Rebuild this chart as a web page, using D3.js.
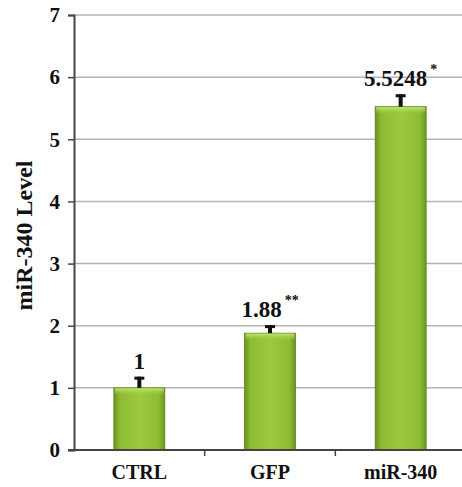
<!DOCTYPE html>
<html>
<head>
<meta charset="utf-8">
<script src="https://cdn.jsdelivr.net/npm/d3@7"></script>
<style>
  body { margin: 0; background: #fff; }
  svg { display: block; }
  text { font-family: "Liberation Serif", "DejaVu Serif", serif; font-weight: bold; fill: #111; }
</style>
</head>
<body>
<div id="chart"></div>
<script>
let width = 462;
let height = 487;

// data
let groups = ["CTRL", "GFP", "miR-340"];
let levels = [1, 1.88, 5.5248];
let errors = [0.18, 0.13, 0.2];
let valueLabels = ["1", "1.88", "5.5248"];
let stars = ["", "**", "*"];
let yTicks = [0, 1, 2, 3, 4, 5, 6, 7];

let plotLeft = 74, plotRight = 466, plotTop = 15, plotBottom = 450;

let svg = d3.select("#chart").append("svg")
    .attr("width", width)
    .attr("height", height);

let xScale = d3.scaleBand().domain(groups).range([plotLeft, plotRight]).padding(0);
let yScale = d3.scaleLinear().domain([0, 7]).range([plotBottom, plotTop]);
let barW = xScale.bandwidth() * 0.39;

// gradient for the bars
let defs = svg.append("defs");
let grad = defs.append("linearGradient").attr("id", "barGrad")
    .attr("x1", "0%").attr("x2", "100%").attr("y1", "0%").attr("y2", "0%");
grad.append("stop").attr("offset", "0%").attr("stop-color", "#6a951e");
grad.append("stop").attr("offset", "12%").attr("stop-color", "#8dbb33");
grad.append("stop").attr("offset", "50%").attr("stop-color", "#9cc93e");
grad.append("stop").attr("offset", "88%").attr("stop-color", "#8dbb33");
grad.append("stop").attr("offset", "100%").attr("stop-color", "#6a951e");

let topGrad = defs.append("linearGradient").attr("id", "topGrad")
    .attr("x1", "0%").attr("x2", "0%").attr("y1", "0%").attr("y2", "100%");
topGrad.append("stop").attr("offset", "0%").attr("stop-color", "#c4e473");
topGrad.append("stop").attr("offset", "100%").attr("stop-color", "#9cc93e").attr("stop-opacity", 0);

// gridlines
svg.append("g").selectAll("line").data(yTicks.filter(d => d > 0)).enter()
    .append("line")
    .attr("x1", plotLeft).attr("x2", plotRight)
    .attr("y1", d => yScale(d)).attr("y2", d => yScale(d))
    .attr("stroke", "#b4b4b4").attr("stroke-width", 1.5);

// y axis
let yAxis = d3.axisLeft(yScale).tickValues(yTicks).tickSize(6).tickPadding(8).tickFormat(d3.format("d"));
let yAxisGroup = svg.append("g").attr("transform", "translate(" + plotLeft + ",0)").call(yAxis);
yAxisGroup.select(".domain").attr("stroke", "#444").attr("stroke-width", 2);
yAxisGroup.selectAll(".tick line").attr("stroke", "#444").attr("stroke-width", 1.5);
yAxisGroup.selectAll(".tick text").attr("font-size", 21).attr("fill", "#111");

// bars
let barGroup = svg.selectAll(".bar").data(groups).enter().append("g").attr("class", "bar");
barGroup.append("rect")
    .attr("x", d => xScale(d) + (xScale.bandwidth() - barW) / 2)
    .attr("y", (d, i) => yScale(levels[i]))
    .attr("width", barW)
    .attr("height", (d, i) => yScale(0) - yScale(levels[i]))
    .attr("fill", "url(#barGrad)")
    .attr("stroke", "#5c821a").attr("stroke-width", 0.8);
barGroup.append("rect")
    .attr("x", d => xScale(d) + (xScale.bandwidth() - barW) / 2 + 1)
    .attr("y", (d, i) => yScale(levels[i]) + 0.5)
    .attr("width", barW - 2)
    .attr("height", 7)
    .attr("fill", "url(#topGrad)");

// error bars
barGroup.append("line")
    .attr("x1", d => xScale(d) + xScale.bandwidth() / 2)
    .attr("x2", d => xScale(d) + xScale.bandwidth() / 2)
    .attr("y1", (d, i) => yScale(levels[i]))
    .attr("y2", (d, i) => yScale(levels[i] + errors[i]))
    .attr("stroke", "#111").attr("stroke-width", 4);
barGroup.append("line")
    .attr("x1", d => xScale(d) + xScale.bandwidth() / 2 - 5)
    .attr("x2", d => xScale(d) + xScale.bandwidth() / 2 + 5)
    .attr("y1", (d, i) => yScale(levels[i] + errors[i]) + 1.5)
    .attr("y2", (d, i) => yScale(levels[i] + errors[i]) + 1.5)
    .attr("stroke", "#111").attr("stroke-width", 3);

// value labels
let labels = barGroup.append("text")
    .attr("x", d => xScale(d) + xScale.bandwidth() / 2)
    .attr("y", (d, i) => yScale(levels[i] + errors[i]) - 8)
    .attr("text-anchor", "middle")
    .attr("font-size", 23)
    .text((d, i) => valueLabels[i]);
labels.append("tspan")
    .attr("dx", 3).attr("dy", -12)
    .attr("font-size", 14)
    .text((d, i) => stars[i]);

// x axis
let xAxis = d3.axisBottom(xScale).tickSize(0).tickPadding(15);
let xAxisGroup = svg.append("g").attr("transform", "translate(0," + plotBottom + ")").call(xAxis);
xAxisGroup.select(".domain").attr("stroke", "#444").attr("stroke-width", 2).attr("d", "M" + (plotLeft - 6) + ",0H" + plotRight);
xAxisGroup.selectAll(".tick text").attr("font-size", 20).attr("fill", "#111");
// category separators
svg.append("g").selectAll("line").data(groups.slice(1)).enter()
    .append("line")
    .attr("x1", d => xScale(d)).attr("x2", d => xScale(d))
    .attr("y1", plotBottom).attr("y2", plotBottom + 6)
    .attr("stroke", "#444").attr("stroke-width", 1.5);

// y title
svg.append("text")
    .attr("transform", "translate(32," + ((plotTop + plotBottom) / 2 + 3) + ") rotate(-90)")
    .attr("text-anchor", "middle")
    .attr("font-size", 24)
    .text("miR-340 Level");
</script>
</body>
</html>
